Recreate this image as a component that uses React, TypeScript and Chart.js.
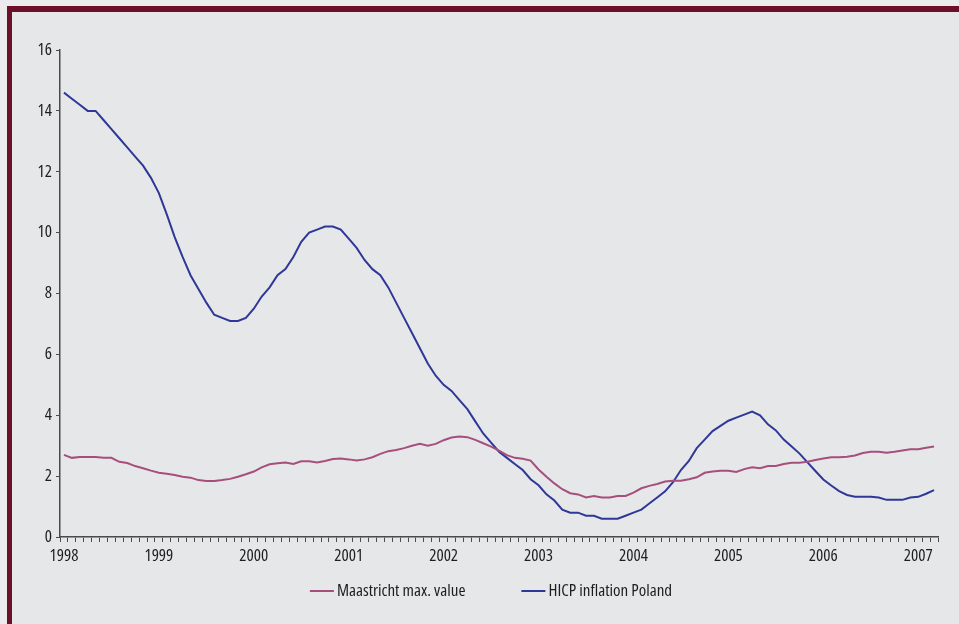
import React, { useEffect, useRef } from 'react';
import { Chart, registerables } from 'chart.js';

Chart.register(...registerables);

const years = ['1998', '1999', '2000', '2001', '2002', '2003', '2004', '2005', '2006', '2007'];
const monthNames = ['Jan', 'Feb', 'Mar', 'Apr', 'May', 'Jun', 'Jul', 'Aug', 'Sep', 'Oct', 'Nov', 'Dec'];

const maastrichtMax = [
  2.7, 2.6, 2.63, 2.63, 2.63, 2.6, 2.6, 2.47, 2.43, 2.33,
  2.26, 2.18, 2.11, 2.08, 2.04, 1.98, 1.95, 1.87, 1.84, 1.84,
  1.87, 1.91, 1.98, 2.06, 2.15, 2.29, 2.39, 2.42, 2.45, 2.4,
  2.49, 2.49, 2.45, 2.5, 2.56, 2.58, 2.55, 2.51, 2.55, 2.62,
  2.73, 2.82, 2.86, 2.92, 3.0, 3.06, 3.0, 3.06, 3.18, 3.27,
  3.3, 3.28, 3.19, 3.08, 2.97, 2.84, 2.69, 2.6, 2.57, 2.51,
  2.22, 1.98, 1.76, 1.57, 1.44, 1.4, 1.3, 1.35, 1.3, 1.3,
  1.35, 1.35, 1.46, 1.6, 1.68, 1.74, 1.82, 1.85, 1.85, 1.9,
  1.96, 2.11, 2.15, 2.18, 2.18, 2.14, 2.23, 2.29, 2.26, 2.33,
  2.33, 2.4, 2.44, 2.44, 2.47, 2.53, 2.58, 2.62, 2.62, 2.64,
  2.68, 2.76, 2.8, 2.8, 2.77, 2.8, 2.84, 2.88, 2.88, 2.93,
  2.97,
];

const hicpPoland = [
  14.6, 14.4, 14.2, 14.0, 14.0, 13.7, 13.4, 13.1, 12.8, 12.5,
  12.2, 11.8, 11.3, 10.6, 9.85, 9.2, 8.6, 8.15, 7.7, 7.3,
  7.2, 7.1, 7.1, 7.2, 7.5, 7.9, 8.2, 8.6, 8.8, 9.2,
  9.7, 10.0, 10.1, 10.2, 10.2, 10.1, 9.8, 9.5, 9.1, 8.8,
  8.6, 8.2, 7.7, 7.2, 6.7, 6.2, 5.7, 5.3, 5.0, 4.8,
  4.5, 4.2, 3.8, 3.4, 3.1, 2.8, 2.6, 2.4, 2.2, 1.9,
  1.7, 1.4, 1.2, 0.9, 0.8, 0.8, 0.7, 0.7, 0.6, 0.6,
  0.6, 0.7, 0.8, 0.9, 1.1, 1.3, 1.5, 1.8, 2.2, 2.5,
  2.92, 3.2, 3.48, 3.65, 3.82, 3.92, 4.02, 4.12, 4.0, 3.7,
  3.5, 3.2, 2.97, 2.74, 2.45, 2.17, 1.89, 1.69, 1.51, 1.38,
  1.32, 1.32, 1.32, 1.3, 1.22, 1.22, 1.22, 1.3, 1.32, 1.42,
  1.54,
];

const categories = years
  .flatMap((y) => monthNames.map((m) => `${m} ${y}`))
  .slice(0, hicpPoland.length);

const yTicks = [0, 2, 4, 6, 8, 10, 12, 14, 16];

const FAMILY = '"Open Sans", "DejaVu Sans Condensed", sans-serif';
const WEIGHT = '500 condensed';
const SIZE = 17;
const MAGENTA = '#a64f7d';
const BLUE = '#2f3797';
const AXIS = '#4a4a4a';
const TEXT = '#1e1e1e';

const legendPlugin = {
  id: 'bottomLegend',
  afterDraw(chart: any) {
    const ctx = chart.ctx as CanvasRenderingContext2D;
    const ds = chart.data.datasets;
    const area = chart.chartArea;
    ctx.save();
    ctx.font = `${WEIGHT} ${SIZE}px ${FAMILY}`;
    ctx.textBaseline = 'middle';
    ctx.textAlign = 'left';
    const lineW = 24;
    const gap = 3;
    const itemGap = 56;
    const widths = ds.map((d: any) => lineW + gap + ctx.measureText(d.label).width);
    const total = widths.reduce((a: number, b: number) => a + b, 0) + itemGap * (ds.length - 1);
    let x = (area.left + area.right) / 2 - 8 - total / 2;
    const y = area.bottom + 54;
    ds.forEach((d: any, i: number) => {
      ctx.strokeStyle = d.borderColor;
      ctx.lineWidth = 2;
      ctx.beginPath();
      ctx.moveTo(x, y);
      ctx.lineTo(x + lineW, y);
      ctx.stroke();
      ctx.fillStyle = TEXT;
      ctx.fillText(d.label, x + lineW + gap, y);
      x += widths[i] + itemGap;
    });
    ctx.restore();
  },
};

export default function App() {
  const ref = useRef<HTMLCanvasElement | null>(null);

  useEffect(() => {
    document.body.style.margin = '0';
    if (!ref.current) return;
    const chart = new Chart(ref.current, {
      type: 'line',
      data: {
        labels: categories,
        datasets: [
          {
            label: 'Maastricht max. value',
            data: maastrichtMax,
            borderColor: MAGENTA,
            backgroundColor: MAGENTA,
            borderWidth: 2,
            pointRadius: 0,
            tension: 0,
          },
          {
            label: 'HICP inflation Poland',
            data: hicpPoland,
            borderColor: BLUE,
            backgroundColor: BLUE,
            borderWidth: 2,
            pointRadius: 0,
            tension: 0,
          },
        ],
      },
      options: {
        animation: false,
        responsive: false,
        maintainAspectRatio: false,
        layout: { padding: { top: 38, right: 21, bottom: 0, left: 0 } },
        plugins: {
          legend: { display: false },
          tooltip: { enabled: false },
        },
        scales: {
          x: {
            type: 'category',
            offset: true,
            grid: {
              offset: true,
              drawOnChartArea: false,
              drawTicks: true,
              tickLength: 5,
              color: AXIS,
              lineWidth: 1,
            },
            border: { display: true, color: AXIS, width: 1.5 },
            ticks: {
              autoSkip: false,
              maxRotation: 0,
              minRotation: 0,
              padding: 4,
              color: TEXT,
              font: { family: FAMILY, size: SIZE, weight: WEIGHT as any },
              callback: (_v: any, index: number) => (index % 12 === 0 ? years[index / 12] : ''),
            },
            afterFit: (scale: any) => {
              scale.height = 87;
            },
          },
          y: {
            min: 0,
            max: 16,
            afterBuildTicks: (scale: any) => {
              scale.ticks = yTicks.map((v) => ({ value: v }));
            },
            grid: {
              drawOnChartArea: false,
              drawTicks: true,
              tickLength: 4,
              color: AXIS,
              lineWidth: 1,
            },
            border: { display: true, color: AXIS, width: 1.5 },
            ticks: {
              padding: 4,
              color: TEXT,
              font: { family: FAMILY, size: SIZE, weight: WEIGHT as any },
            },
            afterFit: (scale: any) => {
              scale.width = 48;
            },
          },
        },
      },
      plugins: [legendPlugin],
    });
    return () => chart.destroy();
  }, []);

  return (
    <div style={{ position: 'fixed', left: 0, top: 0, width: 959, height: 624, background: '#ebebed', overflow: 'hidden' }}>
      <div
        style={{
          position: 'absolute',
          left: 7,
          top: 6,
          width: 952,
          height: 618,
          boxSizing: 'border-box',
          borderLeft: '5px solid #6c0f28',
          borderTop: '6px solid #6c0f28',
          background: '#e6e7e9',
        }}
      >
        <canvas ref={ref} width={947} height={612} style={{ display: 'block', width: 947, height: 612 }} />
      </div>
    </div>
  );
}
